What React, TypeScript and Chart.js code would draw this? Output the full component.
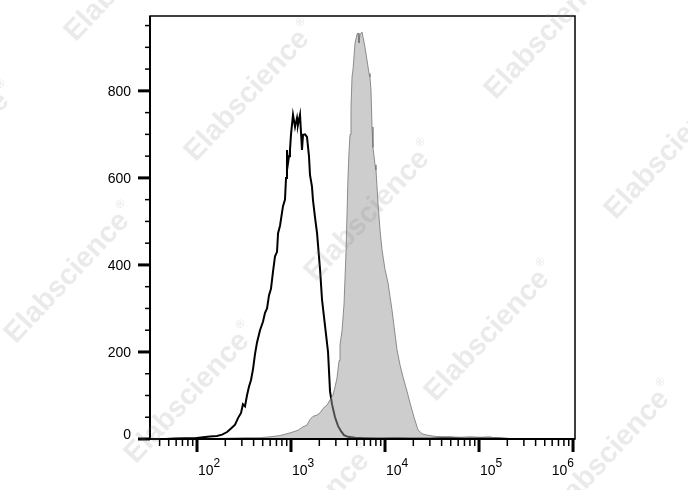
import React, { useEffect, useRef } from "react";
import { Chart, registerables } from "chart.js";

Chart.register(...registerables);

// Control (black outline) histogram: fluorescence intensity vs count
const controlIntensity = [
  46, 58, 75, 95, 116, 137, 163, 185, 209, 230,
  254, 273, 294, 308, 324, 340, 357, 375, 394, 414,
  435, 468, 504, 529, 556, 583, 612, 644, 676, 710,
  728, 764, 802, 822, 863, 885, 906, 929, 952, 975,
  1000, 1050, 1104, 1159, 1186, 1247, 1309, 1342, 1409, 1479,
  1553, 1592, 1671, 1713, 1799, 1892, 2036, 2138, 2301, 2477,
  2600, 2729, 2938, 3162, 3404, 3664, 4036, 4797, 6124, 8851,
  12770, 18450, 30130, 49100, 70950, 102600, 167100, 213600,
];
const controlCounts = [
  0, 1, 2, 2, 4, 6, 7, 10, 16, 24,
  33, 48, 60, 80, 75, 100, 120, 135, 160, 195,
  222, 250, 270, 290, 300, 330, 345, 385, 420, 430,
  473, 490, 520, 535, 550, 600, 664, 634, 650, 664,
  700, 745, 717, 738, 722, 745, 664, 699, 700, 694,
  650, 607, 580, 549, 510, 473, 390, 320, 260, 200,
  110, 80, 50, 30, 18, 9, 5, 3, 2, 1,
  2, 1, 1, 3, 1, 2, 1, 0,
];

// Stained (grey filled) histogram
const stainedIntensity = [
  108, 155, 224, 324, 468, 598, 764, 975, 1186, 1342,
  1479, 1592, 1713, 1892, 2036, 2188, 2415, 2600, 2797, 2938,
  3085, 3243, 3319, 3491, 3664, 3846, 4036, 4140, 4246, 4345,
  4457, 4571, 4797, 5035, 5164, 5284, 5420, 5689, 5834, 6124,
  6442, 6761, 6918, 7096, 7278, 7447, 7834, 8017, 8433, 8851,
  9290, 10000, 10760, 11860, 13420, 14450, 15520, 17140, 18450, 20360,
  22430, 24770, 27990, 34040, 45710, 62810, 80170, 102600, 130900, 147900,
  167100,
];
const stainedCounts = [
  0, 1, 2, 3, 3, 5, 8, 14, 20, 28,
  32, 45, 52, 55, 60, 70, 78, 90, 101, 120,
  140, 180, 216, 250, 310, 430, 600, 660, 700, 760,
  832, 850, 910, 930, 933, 910, 930, 935, 924, 900,
  870, 840, 832, 802, 717, 670, 630, 618, 540, 480,
  435, 390, 359, 297, 205, 170, 143, 110, 83, 50,
  21, 12, 9, 6, 5, 4, 5, 4, 5, 2,
  0,
];

const xMajorValues = [100, 1000, 10000, 100000, 1000000];
const xTickBase = "10";
const xTickExponents = ["2", "3", "4", "5", "6"];
const yTickValues = [0, 200, 400, 600, 800];
const X_MIN = Math.pow(10, 1.5);
const X_MAX = Math.pow(10, 6.021);
const Y_MAX = 972;
const watermarkText = "Elabscience";
const watermarkMark = "\u00AE";

const FONT = '"Liberation Sans", Arial, Helvetica, sans-serif';

const axesPlugin = {
  id: "flowAxes",
  afterDraw(chart: any) {
    const { ctx, chartArea: a, scales } = chart;
    const xs = scales.x;
    const ys = scales.y;
    ctx.save();
    ctx.strokeStyle = "#000";
    ctx.fillStyle = "#000";
    // frame
    ctx.lineWidth = 1.5;
    ctx.strokeRect(a.left, a.top, a.right - a.left, a.bottom - a.top);
    ctx.lineWidth = 2;
    ctx.beginPath();
    ctx.moveTo(a.left, a.top);
    ctx.lineTo(a.left, a.bottom);
    ctx.lineTo(a.right, a.bottom);
    ctx.stroke();

    // x ticks (log decades with minor 2..9)
    for (let d = 1; d <= 6; d++) {
      for (let m = 1; m <= 9; m++) {
        const v = m * Math.pow(10, d);
        if (v < X_MIN || v > X_MAX) continue;
        const px = xs.getPixelForValue(v);
        const major = m === 1;
        ctx.lineWidth = major ? 3 : 1.5;
        ctx.beginPath();
        ctx.moveTo(px, a.bottom);
        ctx.lineTo(px, a.bottom + (major ? 13 : 7));
        ctx.stroke();
      }
    }
    // y ticks every 50, major every 200
    for (let v = 0; v <= Y_MAX; v += 50) {
      const py = ys.getPixelForValue(v);
      const major = v % 200 === 0;
      ctx.lineWidth = major ? 3 : 1.5;
      ctx.beginPath();
      ctx.moveTo(a.left - (major ? 12 : 5), py);
      ctx.lineTo(a.left, py);
      ctx.stroke();
    }

    // y labels
    ctx.font = `14px ${FONT}`;
    ctx.textAlign = "right";
    ctx.textBaseline = "middle";
    yTickValues.forEach((v) => {
      let py = ys.getPixelForValue(v);
      if (v === 0) py -= 5;
      ctx.fillText(String(v), a.left - 19, py + 1);
    });

    // x labels with superscript exponent
    ctx.textBaseline = "alphabetic";
    ctx.textAlign = "left";
    xMajorValues.forEach((v, i) => {
      const px = xs.getPixelForValue(v);
      ctx.font = `14px ${FONT}`;
      const wBase = ctx.measureText(xTickBase).width;
      ctx.font = `12px ${FONT}`;
      const wExp = ctx.measureText(xTickExponents[i]).width;
      let left = px + 1;
      if (i === xMajorValues.length - 1) left = px + 1 - wBase - wExp;
      ctx.font = `14px ${FONT}`;
      ctx.fillText(xTickBase, left, a.bottom + 36);
      ctx.font = `12px ${FONT}`;
      ctx.fillText(xTickExponents[i], left + wBase, a.bottom + 28);
    });
    ctx.restore();
  },
};

const watermarkPlugin = {
  id: "watermark",
  afterDraw(chart: any) {
    const { ctx, width, height } = chart;
    const ang = (-47 * Math.PI) / 180;
    ctx.save();
    ctx.fillStyle = "rgba(128,128,128,0.17)";
    for (let i = -4; i <= 5; i++) {
      for (let j = -3; j <= 3; j++) {
        const ox = 190 + i * 120 - j * 180;
        const oy = 157 + i * 120 + j * 182;
        if (ox < -260 || ox > width + 20 || oy < -40 || oy > height + 220) continue;
        ctx.save();
        ctx.translate(ox, oy);
        ctx.rotate(ang);
        ctx.textBaseline = "middle";
        ctx.textAlign = "left";
        ctx.font = `bold 29px ${FONT}`;
        ctx.fillText(watermarkText, 0, 0);
        const w = ctx.measureText(watermarkText).width;
        ctx.font = `bold 12px ${FONT}`;
        ctx.fillText(watermarkMark, w + 2, -11);
        ctx.restore();
      }
    }
    ctx.restore();
  },
};

export default function App() {
  const canvasRef = useRef<HTMLCanvasElement | null>(null);

  useEffect(() => {
    if (!canvasRef.current) return;
    const stained = stainedIntensity.map((x, i) => ({ x, y: stainedCounts[i] }));
    const control = controlIntensity.map((x, i) => ({ x, y: controlCounts[i] }));
    const chart = new Chart(canvasRef.current, {
      type: "line",
      data: {
        datasets: [
          {
            label: "Stained",
            data: stained,
            borderColor: "rgba(110,110,110,0.75)",
            backgroundColor: "rgba(155,155,155,0.5)",
            borderWidth: 1,
            fill: "origin",
            pointRadius: 0,
            tension: 0,
            order: 0,
          },
          {
            label: "Control",
            data: control,
            borderColor: "#000",
            borderWidth: 2,
            fill: false,
            pointRadius: 0,
            tension: 0,
            order: 1,
          },
        ],
      },
      options: {
        animation: false,
        responsive: false,
        maintainAspectRatio: false,
        events: [],
        layout: { padding: { left: 0, right: 113, top: 16, bottom: 0 } },
        plugins: {
          legend: { display: false },
          tooltip: { enabled: false },
        },
        scales: {
          x: {
            type: "logarithmic",
            min: X_MIN,
            max: X_MAX,
            grid: { display: false },
            border: { display: false },
            ticks: { display: false },
            afterFit: (s: any) => {
              s.height = 51;
            },
          },
          y: {
            type: "linear",
            min: 0,
            max: Y_MAX,
            grid: { display: false },
            border: { display: false },
            ticks: { display: false },
            afterBuildTicks: (s: any) => {
              s.ticks = yTickValues.map((v) => ({ value: v }));
            },
            afterFit: (s: any) => {
              s.width = 150;
            },
          },
        },
      },
      plugins: [axesPlugin, watermarkPlugin],
    });
    return () => chart.destroy();
  }, []);

  return (
    <div
      style={{
        position: "fixed",
        left: 0,
        top: 0,
        width: 688,
        height: 490,
        background: "#fff",
      }}
    >
      <canvas ref={canvasRef} width={688} height={490} style={{ width: 688, height: 490 }} />
    </div>
  );
}
